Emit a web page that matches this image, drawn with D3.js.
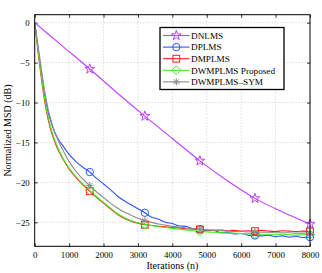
<!DOCTYPE html>
<html>
<head>
<meta charset="utf-8">
<script src="https://cdn.jsdelivr.net/npm/d3@7"></script>
<style>
  html, body { margin: 0; padding: 0; background: #fff; }
  svg { display: block; font-family: "Liberation Serif", "DejaVu Serif", serif; }
</style>
</head>
<body>
<div id="chart"></div>
<script>
// MSD learning curves (dB)
const iters = [0, 100, 200, 300, 400, 500, 600, 700, 800, 1000, 1200, 1400, 1600,
  1800, 2000, 2200, 2400, 2600, 2800, 3000, 3200, 3400, 3600, 3800, 4000, 4200, 4400,
  4600, 4800, 5000, 5200, 5400, 5600, 5800, 6000, 6200, 6400, 6600, 6800, 7000, 7200,
  7400, 7600, 7800, 8000];

const nlmsIters = [0, 800, 1600, 2400, 3200, 4000, 4800, 5600, 6400, 7200, 8000];
const dnlms = [0, -2.9, -5.8, -8.8, -11.7, -14.5, -17.3, -19.8, -22.0, -23.7, -25.2];

const dplms = [0, -3.3, -6.5, -9.4, -11.4, -12.8, -13.9, -14.7, -15.3, -16.5, -17.4, -18.1, -18.7,
  -19.5, -20.2, -20.9, -21.7, -22.3, -22.8, -23.3, -23.8, -24.35, -24.6, -25.0, -25.15, -25.45, -25.5,
  -25.8, -25.85, -26.05, -26.0, -26.3, -26.25, -26.45, -26.4, -26.6, -26.65, -26.7, -26.6, -26.8, -26.7,
  -26.85, -26.75, -26.9, -26.85];

const dmplms = [0, -3.8, -7.2, -10.1, -12.3, -13.9, -15.1, -16.1, -16.9, -18.3, -19.4, -20.3, -21.1,
  -21.9, -22.6, -23.3, -24.0, -24.5, -24.85, -25.1, -25.3, -25.4, -25.5, -25.55, -25.65, -25.7, -25.8,
  -25.85, -25.9, -25.95, -26.0, -25.95, -26.05, -26.0, -26.1, -26.05, -26.1, -26.0, -26.1, -26.15, -26.05,
  -26.1, -26.15, -26.1, -26.15];

const dwmplms = [0, -3.5, -6.9, -9.8, -12.0, -13.6, -14.9, -15.9, -16.8, -18.2, -19.3, -20.2, -21.0,
  -21.8, -22.5, -23.2, -23.9, -24.4, -24.8, -25.05, -25.25, -25.4, -25.55, -25.65, -25.75, -25.85, -25.95,
  -26.05, -26.15, -26.2, -26.25, -26.3, -26.35, -26.35, -26.4, -26.45, -26.45, -26.5, -26.5, -26.55, -26.5,
  -26.55, -26.6, -26.55, -26.55];

const dwmplmsSym = [0, -3.0, -6.0, -8.8, -11.0, -12.6, -13.9, -14.9, -15.8, -17.4, -18.6, -19.6, -20.4,
  -21.2, -21.9, -22.6, -23.2, -23.7, -24.1, -24.5, -24.8, -25.0, -25.2, -25.35, -25.5, -25.6, -25.7,
  -25.8, -25.9, -25.95, -26.0, -26.05, -26.1, -26.15, -26.15, -26.2, -26.2, -26.25, -26.25, -26.3, -26.3,
  -26.3, -26.35, -26.35, -26.35];

const markerIters = [1600, 3200, 4800, 6400, 8000];
const xTicks = [0, 1000, 2000, 3000, 4000, 5000, 6000, 7000, 8000];
const yTicks = [0, -5, -10, -15, -20, -25];

const series = [
  { name: 'DNLMS', x: nlmsIters, y: dnlms, color: '#c040ff', marker: 'star' },
  { name: 'DPLMS', x: iters, y: dplms, color: '#2a55ff', marker: 'circle' },
  { name: 'DMPLMS', x: iters, y: dmplms, color: '#ff1a1a', marker: 'square' },
  { name: 'DWMPLMS Proposed', x: iters, y: dwmplms, color: '#44ee22', marker: 'diamond' },
  { name: 'DWMPLMS\u2013SYM', x: iters, y: dwmplmsSym, color: '#8c8c8c', marker: 'asterisk' },
];

const W = 322, H = 273;
const pLeft = 34.7, pRight = 310, pTop = 14.7, pBottom = 246.3;

const x = d3.scaleLinear().domain([0, 8000]).range([pLeft, pRight]);
const y = d3.scaleLinear().domain([1, -28]).range([pTop, pBottom]);

const svg = d3.select('#chart').append('svg').attr('width', W).attr('height', H);

// grid
const grid = svg.append('g').attr('stroke', '#b8b8b8').attr('stroke-width', 0.7)
  .attr('stroke-dasharray', '1,2');
grid.selectAll('.gx').data(xTicks.slice(1, -1)).join('line')
  .attr('x1', d => x(d)).attr('x2', d => x(d)).attr('y1', pTop).attr('y2', pBottom);
grid.selectAll('.gy').data(yTicks).join('line')
  .attr('y1', d => y(d)).attr('y2', d => y(d)).attr('x1', pLeft).attr('x2', pRight);

// axes (inward ticks on all sides)
const fmtY = d => d < 0 ? '\u2212' + Math.abs(d) : String(d);
const axB = svg.append('g').attr('transform', `translate(0,${pBottom})`)
  .call(d3.axisBottom(x).tickValues(xTicks).tickSizeInner(-3).tickSizeOuter(0).tickPadding(5).tickFormat(d3.format('d')));
const axT = svg.append('g').attr('transform', `translate(0,${pTop})`)
  .call(d3.axisTop(x).tickValues(xTicks).tickSizeInner(-3).tickSizeOuter(0).tickFormat(''));
const axL = svg.append('g').attr('transform', `translate(${pLeft},0)`)
  .call(d3.axisLeft(y).tickValues(yTicks).tickSizeInner(-3).tickSizeOuter(0).tickPadding(5).tickFormat(fmtY));
const axR = svg.append('g').attr('transform', `translate(${pRight},0)`)
  .call(d3.axisRight(y).tickValues(yTicks).tickSizeInner(-3).tickSizeOuter(0).tickFormat(''));
[axB, axT, axL, axR].forEach(a => {
  a.select('.domain').remove();
  a.selectAll('line').attr('stroke', '#000').attr('stroke-width', 0.8);
  a.selectAll('text').attr('fill', '#000').style('font-family', '"Liberation Serif", serif').style('font-size', '8.8px');
});

// curves
const line = d3.line().curve(d3.curveMonotoneX);
const plot = svg.append('g');
series.forEach(s => {
  const pts = s.x.map((v, i) => [x(v), y(s.y[i])]);
  plot.append('path').attr('d', line(pts)).attr('fill', 'none')
    .attr('stroke', s.color).attr('stroke-width', 1.1);
});

function drawMarker(g, type, cx, cy, color) {
  const m = g.append('g').attr('transform', `translate(${cx},${cy})`)
    .attr('fill', 'none').attr('stroke', color).attr('stroke-width', 1);
  if (type === 'star') {
    m.append('path').attr('d', d3.symbol(d3.symbolStar, 30)());
  } else if (type === 'circle') {
    m.append('circle').attr('r', 3.7);
  } else if (type === 'square') {
    m.append('rect').attr('x', -3.4).attr('y', -3.4).attr('width', 6.8).attr('height', 6.8);
  } else if (type === 'diamond') {
    m.append('path').attr('d', 'M0,-4.5L4.5,0L0,4.5L-4.5,0Z');
  } else if (type === 'asterisk') {
    const r = 3.6, q = 2.6;
    m.append('path').attr('d', `M${-r},0H${r}M0,${-r}V${r}M${-q},${-q}L${q},${q}M${-q},${q}L${q},${-q}`);
  }
}

series.forEach(s => {
  markerIters.forEach(mi => {
    const i = s.x.indexOf(mi);
    if (i >= 0) drawMarker(plot, s.marker, x(mi), y(s.y[i]), s.color);
  });
});

// frame
svg.append('rect').attr('x', pLeft).attr('y', pTop).attr('width', pRight - pLeft).attr('height', pBottom - pTop)
  .attr('fill', 'none').attr('stroke', '#000').attr('stroke-width', 1);

// axis labels
svg.append('text').attr('x', (pLeft + pRight) / 2).attr('y', 268.5).attr('text-anchor', 'middle')
  .style('font-size', '10px').text('Iterations (n)');
svg.append('text').attr('transform', `translate(11,${(pTop + pBottom) / 2}) rotate(-90)`)
  .attr('text-anchor', 'middle').style('font-size', '10px').text('Normalized MSD (dB)');

// legend
const lg = svg.append('g');
lg.append('rect').attr('x', 160).attr('y', 27.5).attr('width', 124).attr('height', 62)
  .attr('fill', '#fff').attr('stroke', '#000').attr('stroke-width', 1.3);
series.forEach((s, i) => {
  const ly = 35.5 + i * 11.6;
  lg.append('line').attr('x1', 163).attr('x2', 189.5).attr('y1', ly).attr('y2', ly)
    .attr('stroke', s.color).attr('stroke-width', 1.1);
  drawMarker(lg, s.marker, 176.3, ly, s.color);
  lg.append('text').attr('x', 191).attr('y', ly + 3.2).style('font-size', '9.2px').text(s.name);
});
</script>
</body>
</html>
